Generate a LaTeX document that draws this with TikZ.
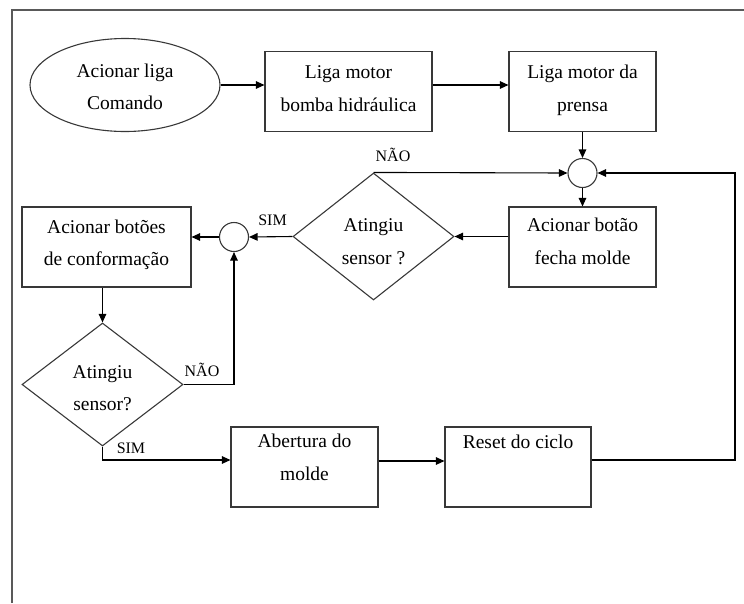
\documentclass[tikz,border=0pt]{standalone}
\usepackage{fontspec}
\setmainfont{Liberation Serif}
\usetikzlibrary{shapes.geometric,arrows.meta,calc}
\newcommand\bigtxt{\fontsize{19.5}{32.5}\selectfont}
\newcommand\smalltxt{\fontsize{16}{19}\selectfont}
\begin{document}
\begin{tikzpicture}[x=1pt,y=-1pt,
  shp/.style={draw=black!78,line width=1.1pt,inner sep=0pt},
  boxn/.style={shp,rectangle,minimum width=#1,minimum height=80pt},
  ell/.style={shp,ellipse,minimum width=190pt,minimum height=93pt},
  decision/.style={shp,diamond,minimum width=161pt,minimum height=#1},
  junction/.style={shp,circle,minimum size=29pt},
  txt/.style={font=\bigtxt,align=center,inner sep=0pt,text height=13pt,text depth=4pt},
  lbl/.style={font=\smalltxt,inner sep=0pt},
  conn/.style={draw=black,line width=1.1pt,-{Triangle[length=8.5pt,width=7.5pt]}},
  frame/.style={draw=black!65,line width=1.5pt}]
\useasboundingbox (0,0) rectangle (744,603);
\draw[frame] (12,603) -- (12,10) -- (744,10);

% shapes
\node[ell] (ell) at (125,85) {};
\node[boxn=167pt] (b1) at (348.5,91.5) {};
\node[boxn=147pt] (b2) at (582.5,91.5) {};
\node[junction] (c1) at (582.5,173) {};
\node[boxn=147pt] (fecha) at (582.5,247) {};
\node[decision=127pt] (d1) at (373.5,236.5) {};
\node[junction] (c2) at (234,237) {};
\node[boxn=169pt] (conf) at (106.5,247) {};
\node[decision=123pt] (d2) at (102.5,384.5) {};
\node[boxn=147pt] (abertura) at (304.5,467) {};
\node[boxn=146pt] (reset) at (518,467) {};
\coordinate (lp) at (735,173);

% texts
\node[txt] (tell) at ($(ell.center)+(0,20)$) {Acionar liga\\Comando};
\node[txt] (tb1) at ($(b1.center)+(0,15)$) {Liga motor\\bomba hidráulica};
\node[txt] (tb2) at ($(b2.center)+(0,15)$) {Liga motor da\\prensa};
\node[txt] (tfecha) at ($(fecha.center)+(0,12.5)$) {Acionar botão\\fecha molde};
\node[txt] (td1) at ($(d1.center)+(0,23)$) {Atingiu\\sensor ?};
\node[txt] (tconf) at ($(conf.center)+(0,14)$) {Acionar botões\\de conformação};
\node[txt] (td2) at ($(d2.center)+(0,21.5)$) {Atingiu\\sensor?};
\node[txt] (tab) at ($(abertura.center)+(0,8.5)$) {Abertura do\\molde};
\node[txt] (treset) at ($(reset.center)+(0,-23)$) {Reset do ciclo};

% labels
\node[lbl] (nao1) at (393,155) {NÃO};
\node[lbl] (sim1) at (272.5,220) {SIM};
\node[lbl] (nao2) at (202,370) {NÃO};
\node[lbl] (sim2) at (131,448) {SIM};

% connectors
\draw[conn] (ell.east) -- (ell.east -| b1.west);
\draw[conn] (b1.east |- ell.east) -- (b2.west |- ell.east);
\draw[conn] (b2.south) -- (c1.north);
\draw[conn] (c1.south) -- (fecha.north);
\draw[conn] (d1.north) -- (c1.west);
\draw[conn] ($(reset.east)+(0,-7)$) -| (lp) -- (c1.east);
\draw[conn] (d1.east -| fecha.west) -- (d1.east);
\draw[conn] (d1.west) -- (c2.east);
\draw[conn] (c2.west) -- (c2.west -| conf.east);
\draw[conn] (d2.north |- conf.south) -- (d2.north);
\draw[conn] (d2.east) -| (c2.south);
\draw[conn] (d2.south) |- ($(abertura.west)+(0,-7)$);
\draw[conn] ($(abertura.east)+(0,-6)$) -- ($(reset.west)+(0,-6)$);
\end{tikzpicture}
\end{document}
